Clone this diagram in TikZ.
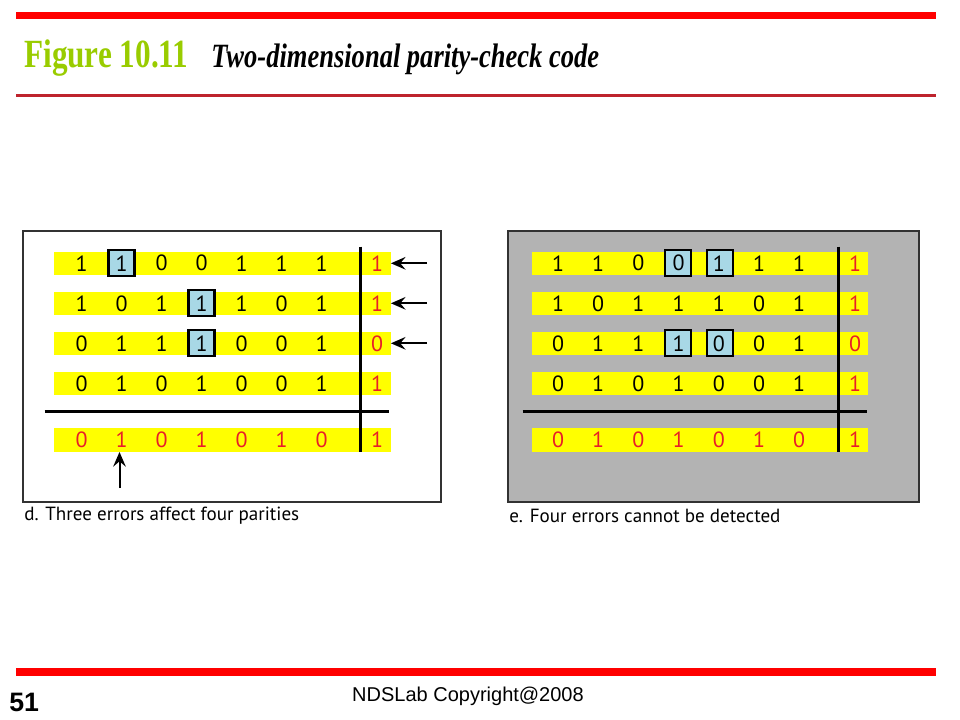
\documentclass[tikz,border=0pt]{standalone}
\usepackage{fontspec}
\setmainfont{Liberation Serif}
\newfontfamily\headfont[FakeStretch=0.78]{Liberation Serif}
\newfontfamily\bitfont{PT Sans}
\newfontfamily\footfont{Liberation Sans}
\usetikzlibrary{arrows.meta}

\definecolor{figgreen}{RGB}{153,204,0}
\definecolor{barred}{RGB}{255,0,0}
\definecolor{linered}{RGB}{190,35,45}
\definecolor{bandyellow}{RGB}{255,255,0}
\definecolor{errblue}{RGB}{168,216,230}
\definecolor{panelgray}{RGB}{179,179,179}
\definecolor{panelframe}{RGB}{50,50,50}
\definecolor{bitred}{RGB}{232,30,40}

\begin{document}
\begin{tikzpicture}[x=0.75pt,y=-0.75pt,
  band/.style={fill=bandyellow,minimum width=252.5pt,minimum height=17.6pt,inner sep=0pt},
  bit/.style={font=\bitfont\fontsize{16.5}{16.5}\selectfont,inner sep=0pt},
  errbox/.style={draw=black,fill=errblue,line width=1.6pt,minimum size=19.5pt,inner sep=0pt},
  panel/.style={draw=panelframe,line width=1.5pt,minimum height=203.25pt,inner sep=0pt},
  rule/.style={line width=2.25pt},
  errarrow/.style={line width=1.5pt,-{Stealth[length=11pt,width=9.5pt,inset=4pt]}},
  caption/.style={font=\bitfont\fontsize{14.3}{14.3}\selectfont,anchor=west,inner sep=0pt}]

	\useasboundingbox (0,0) rectangle (960,720);

	% header and footer
	\fill[barred] (16,12.3) rectangle (936,19.5);
	\fill[linered] (16,94.5) rectangle (936,96.7);
	\fill[barred] (16,668.3) rectangle (936,675.5);
	\node[anchor=base west,inner sep=0pt,text=figgreen,font=\headfont\bfseries\fontsize{30}{30}\selectfont] (figno) at (24,68) {Figure 10.11};
	\node[anchor=base west,inner sep=0pt,font=\headfont\bfseries\itshape\fontsize{25.5}{25.5}\selectfont] (figtitle) at (211,68) {Two-dimensional parity-check code};
	\node[anchor=base,inner sep=0pt,font=\footfont\bfseries\fontsize{20}{20}\selectfont] (slideno) at (24.2,711) {51};
	\node[anchor=base,inner sep=0pt,font=\footfont\fontsize{15}{15}\selectfont] (copyright) at (468,701) {NDSLab Copyright@2008};

	% panels
	\node[panel,fill=white,minimum width=313.5pt] (dpanel) at (232,366.5) {};
	\node[panel,fill=panelgray,minimum width=308.25pt] (epanel) at (713.5,366.5) {};

	\foreach \p/\dx in {d/0,e/477.7}
	  \foreach \r/\y in {1/263.3,2/303.3,3/343.3,4/383.3,5/440}
	    \node[band] (\p band\r) at (222.3+\dx,\y) {};

	% flipped bits
	\node[errbox] (derr1) at (121.5,263.3) {};
	\node[errbox] (derr2) at (201.5,303.3) {};
	\node[errbox] (derr3) at (201.5,343.3) {};
	\node[errbox] (eerr1) at (677.8,263.3) {};
	\node[errbox] (eerr2) at (719.7,263.3) {};
	\node[errbox] (eerr3) at (677.8,343.3) {};
	\node[errbox] (eerr4) at (719.7,343.3) {};

	\foreach \p/\xo/\dx/\xp in {d/81.5/40/377,e/558/40.2/855}
	  \foreach \r/\y/\bits/\pb/\col in {1/263.3/{1,1,0,0,1,1,1}/1/black,2/303.3/{1,0,1,1,1,0,1}/1/black,
	      3/343.3/{0,1,1,1,0,0,1}/0/black,4/383.3/{0,1,0,1,0,0,1}/1/black,5/440/{0,1,0,1,0,1,0}/1/bitred}{
	    \foreach \b [count=\c] in \bits
	      \node[bit,text=\col] (\p\r-\c) at ({\xo+\dx*(\c-1)},\y) {\b};
	    \node[bit,text=bitred] (\p\r-p) at (\xp,\y) {\pb};
	  }

	\draw[rule] (360,246.7) -- (360,451.7);
	\draw[rule] (44.7,411) -- (389,411);
	\draw[rule] (838.3,246.7) -- (838.3,451.7);
	\draw[rule] (522.7,411) -- (866.7,411);

	% parity arrows
	\coordinate (darr1) at (427,263.3);
	\coordinate (darr2) at (427,303.3);
	\coordinate (darr3) at (427,343.3);
	\coordinate (darr4) at (119.5,488);
	\draw[errarrow] (darr1) -- (dband1.east);
	\draw[errarrow] (darr2) -- (dband2.east);
	\draw[errarrow] (darr3) -- (dband3.east);
	\draw[errarrow] (darr4) -- (darr4 |- dband5.south);

	\node[caption] (dcap) at (24,516) {d. Three errors affect four parities};
	\node[caption] (ecap) at (509,516) {e. Four errors cannot be detected};
\end{tikzpicture}
\end{document}
